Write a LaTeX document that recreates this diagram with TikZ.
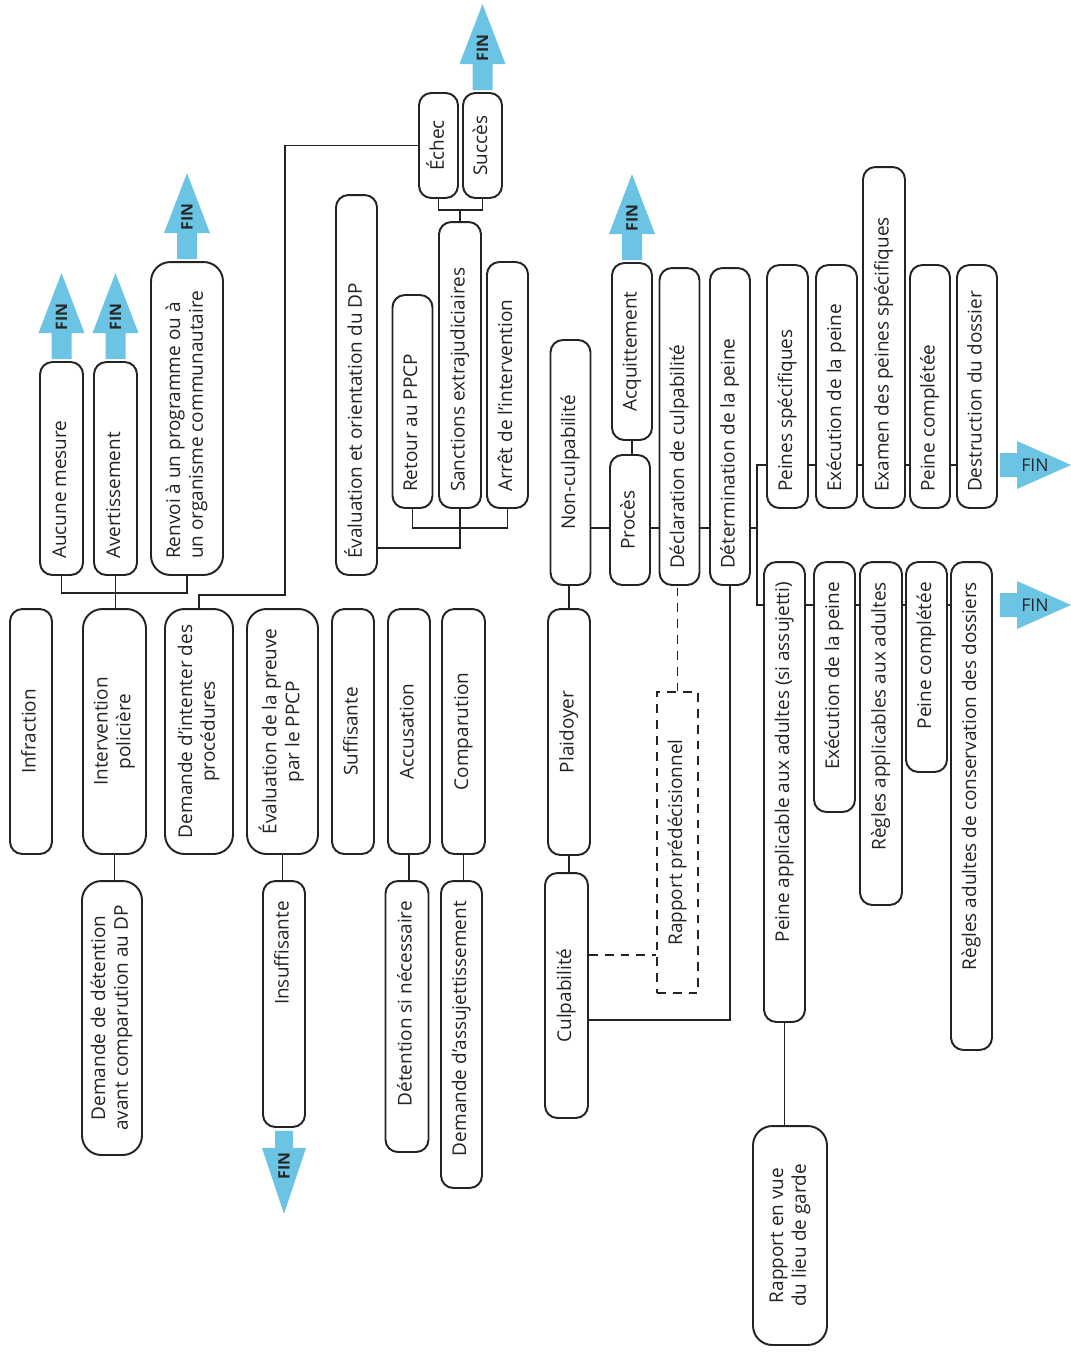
\documentclass[tikz,border=0pt]{standalone}
\usepackage{fontspec}
\setmainfont{Open Sans}
\usepackage{graphicx}
\definecolor{finblue}{RGB}{108, 196, 228}
\definecolor{inkgray}{RGB}{35, 35, 35}
% texte vertical : centre, cale en bas, cale en haut
\newcommand{\vt}[1]{\rotatebox{90}{\begin{tabular}{@{}c@{}}#1\end{tabular}}}
\newcommand{\vb}[2]{\rotatebox{90}{\makebox[#1][l]{\begin{tabular}{@{}l@{}}#2\end{tabular}}}}
\newcommand{\vu}[2]{\rotatebox{90}{\makebox[#1][r]{\begin{tabular}{@{}r@{}}#2\end{tabular}}}}

\begin{document}
\begin{tikzpicture}[
  x = 0.02cm, y = -0.02cm,
  box/.style   = {rectangle, rounded corners=7pt, draw=inkgray, line width=1.1pt, fill=white,
                  inner sep=0pt, font=\fontsize{10.8}{13}\selectfont, text=inkgray},
  wide/.style  = {box, rounded corners=11pt},
  dbox/.style  = {rectangle, draw=inkgray, line width=0.8pt, dash pattern=on 5pt off 4pt,
                  inner sep=0pt, font=\fontsize{10.8}{13}\selectfont, text=inkgray},
  link/.style  = {draw=inkgray, line width=0.7pt},
  dlink/.style = {link, dash pattern=on 5pt off 4pt},
  fin/.style   = {font=\fontsize{9}{10}\selectfont\bfseries, text=black!85, inner sep=0pt}
]
\useasboundingbox (0,0) rectangle (1071,1353);

% police et DP
\node[box,  minimum width=0.86cm, minimum height=4.26cm] (aucune) at (61.5,468.5) {\vb{3.62cm}{Aucune mesure}};
\node[box,  minimum width=0.86cm, minimum height=4.26cm] (avert)  at (115.5,468.5) {\vb{3.62cm}{Avertissement}};
\node[wide, minimum width=1.44cm, minimum height=6.26cm] (renvoi) at (187,418.5) {\vb{5.62cm}{Renvoi à un programme ou à\\un organisme communautaire}};
\node[box,  minimum width=0.84cm, minimum height=4.9cm]  (infr)   at (31,731.5)  {\vt{Infraction}};
\node[wide, minimum width=1.26cm, minimum height=4.9cm]  (pol)    at (114.5,731.5) {\vt{Intervention\\policière}};
\node[wide, minimum width=1.36cm, minimum height=4.9cm]  (demint) at (199,731.5) {\vt{Demande d’intenter des\\procédures}};
\node[wide, minimum width=1.42cm, minimum height=4.9cm]  (evprv)  at (282.5,731.5) {\vt{Évaluation de la preuve\\par le PPCP}};
\node[box,  minimum width=0.84cm, minimum height=4.9cm]  (suff)   at (353,731.5) {\vt{Suffisante}};
\node[box,  minimum width=0.84cm, minimum height=4.9cm]  (accus)  at (409,731.5) {\vt{Accusation}};
\node[box,  minimum width=0.86cm, minimum height=4.9cm]  (compar) at (463.5,731.5) {\vt{Comparution}};
\node[wide, minimum width=1.2cm,  minimum height=5.48cm] (demdet) at (112,1018) {\vt{Demande de détention\\avant comparution au DP}};
\node[box,  minimum width=0.84cm, minimum height=4.92cm] (insuff) at (284,1004) {\vu{4.12cm}{Insuffisante}};
\node[box,  minimum width=0.86cm, minimum height=5.42cm] (detnec) at (407,1016.5) {\vu{4.62cm}{Détention si nécessaire}};
\node[box,  minimum width=0.82cm, minimum height=6.14cm] (assuj)  at (461.5,1034.5) {\vu{5.34cm}{Demande d’assujettissement}};

% sanctions extrajudiciaires
\node[box, minimum width=0.82cm, minimum height=7.6cm]  (evor)   at (356.5,385) {\vb{6.96cm}{Évaluation et orientation du DP}};
\node[box, minimum width=0.8cm,  minimum height=4.26cm] (retour) at (412.5,401.5) {\vb{3.62cm}{Retour au PPCP}};
\node[box, minimum width=0.84cm, minimum height=5.72cm] (sanct)  at (460,365) {\vb{5.08cm}{Sanctions extrajudiciaires}};
\node[box, minimum width=0.82cm, minimum height=4.92cm] (arret)  at (507.5,385) {\vb{4.28cm}{Arrêt de l’intervention}};
\node[box, minimum width=0.78cm, minimum height=2.1cm]  (echec)  at (438.5,145.5) {\vt{Échec}};
\node[box, minimum width=0.78cm, minimum height=2.1cm]  (succes) at (482.5,145.5) {\vt{Succès}};

% tribunal
\node[box, minimum width=0.8cm,  minimum height=4.9cm]  (nonculp) at (570.5,462.5) {\vt{Non-culpabilité}};
\node[box, minimum width=0.84cm, minimum height=4.92cm] (plaid)   at (569,732) {\vt{Plaidoyer}};
\node[box, minimum width=0.86cm, minimum height=4.9cm]  (culp)    at (566.5,995.5) {\vt{Culpabilité}};
\node[box, minimum width=0.8cm,  minimum height=2.6cm]  (proces)  at (630,520) {\vt{Procès}};
\node[box, minimum width=0.8cm,  minimum height=3.54cm] (acquit)  at (632,351.5) {\vt{Acquittement}};
\node[box, minimum width=0.8cm,  minimum height=6.34cm] (declcul) at (679.5,426.5) {\vb{5.7cm}{Déclaration de culpabilité}};
\node[box, minimum width=0.8cm,  minimum height=6.34cm] (determ)  at (730,426.5) {\vb{5.7cm}{Détermination de la peine}};
\node[dbox, minimum width=0.82cm, minimum height=6.02cm] (rappred) at (677.5,842.5) {\vt{Rapport prédécisionnel}};

% peines
\node[box, minimum width=0.82cm, minimum height=4.86cm] (pspec)   at (787.5,386.5) {\vb{4.22cm}{Peines spécifiques}};
\node[box, minimum width=0.82cm, minimum height=4.86cm] (execa)   at (836.5,386.5) {\vb{4.22cm}{Exécution de la peine}};
\node[box, minimum width=0.84cm, minimum height=6.82cm] (examen)  at (884,337.5) {\vb{6.18cm}{Examen des peines spécifiques}};
\node[box, minimum width=0.8cm,  minimum height=4.86cm] (compa)   at (930,386.5) {\vb{4.22cm}{Peine complétée}};
\node[box, minimum width=0.8cm,  minimum height=4.86cm] (destr)   at (977,386.5) {\vb{4.22cm}{Destruction du dossier}};
\node[box, minimum width=0.82cm, minimum height=9.2cm]  (padult)  at (784.5,792) {\vu{8.4cm}{Peine applicable aux adultes (si assujetti)}};
\node[box, minimum width=0.82cm, minimum height=5cm]    (execb)   at (834.5,687) {\vu{4.2cm}{Exécution de la peine}};
\node[box, minimum width=0.84cm, minimum height=6.86cm] (regles)  at (881,733.5) {\vu{6.06cm}{Règles applicables aux adultes}};
\node[box, minimum width=0.82cm, minimum height=4.2cm]  (compb)   at (926.5,667) {\vu{3.4cm}{Peine complétée}};
\node[box, minimum width=0.82cm, minimum height=9.76cm] (rcons)   at (971.5,806) {\vu{8.96cm}{Règles adultes de conservation des dossiers}};
\node[wide, minimum width=1.48cm, minimum height=4.38cm] (garde)  at (790,1235.5) {\vt{Rapport en vue\\du lieu de garde}};

% jonctions
\coordinate (barA) at (0,593);
\coordinate (barB) at (285,595);
\coordinate (jsa)  at (460,528);
\coordinate (jsb)  at (460,548);
\coordinate (jes)  at (460,210);
\coordinate (jtr)  at (0,528);
\coordinate (sp1)  at (757,465);
\coordinate (sp2)  at (757,605);
\coordinate (jcu)  at (730,1020);
\coordinate (jdc)  at (0,955);
\coordinate (fx)   at (1000,0);

\draw[link] (aucune.south) |- (renvoi.south |- barA) -- (renvoi.south);
\draw[link] (avert.south) -- (avert.south |- pol.north);
\draw[link] (pol.south) -- (pol.south |- demdet.north);
\draw[link] (demint.north) |- (barB) |- (echec.west);
\draw[link] (evprv.south) -- (evprv.south |- insuff.north);
\draw[link] (accus.south) -- (accus.south |- detnec.north);
\draw[link] (compar.south) -- (compar.south |- assuj.north);

\draw[link] (retour.south) |- (jsa) -| (arret.south);
\draw[link] (sanct.south) -- (jsa) -- (jsb) -- (evor.east |- jsb);
\draw[link] (echec.south) |- (jes) -| (succes.south);
\draw[link] (sanct.north) -- (jes);

\draw[link] (plaid.north) -- (plaid.north |- nonculp.south);
\draw[link] (plaid.south) -- (plaid.south |- culp.north);
\draw[link] (acquit.south) -- (acquit.south |- proces.north);
\foreach \a/\b in {nonculp/proces, proces/declcul, declcul/determ}
  \draw[link] (\a.east |- jtr) -- (\b.west |- jtr);
\draw[link] (determ.east |- jtr) -- (sp1 |- jtr);
\draw[link] (pspec.west |- sp1) -- (sp1) -- (sp2) -- (padult.west |- sp2);
\foreach \a/\b in {pspec/execa, execa/examen, examen/compa, compa/destr}
  \draw[link] (\a.east |- sp1) -- (\b.west |- sp1);
\foreach \a/\b in {padult/execb, execb/regles, regles/compb, compb/rcons}
  \draw[link] (\a.east |- sp2) -- (\b.west |- sp2);
\draw[link] (padult.south) -- (padult.south |- garde.north);

\draw[link] (culp.east |- jcu) -| (determ.south);
\draw[dlink] (culp.east |- jdc) -- (rappred.west |- jdc);
\draw[dlink] (rappred.north) -- (rappred.north |- declcul.south);

% fleches FIN
\foreach \n in {aucune, avert, renvoi, succes, acquit}{
  \fill[finblue] (\n.north) ++(-10,-2) -- ++(0,-26) -- ++(-13,0) -- ++(23,-60)
    -- ++(23,60) -- ++(-13,0) -- ++(0,26) -- cycle;
  \path (\n.north) ++(0,-44) node[fin] (fin-\n) {\rotatebox{90}{FIN}};
}
\fill[finblue] (insuff.south) ++(-9,3) -- ++(0,17) -- ++(-13,0) -- ++(22,66)
  -- ++(22,-66) -- ++(-13,0) -- ++(0,-17) -- cycle;
\path (insuff.south) ++(0,38) node[fin] (fin-insuff) {\rotatebox{90}{FIN}};
\foreach \c in {sp1, sp2}{
  \fill[finblue] (fx |- \c) ++(0,-12) -- ++(17,0) -- ++(0,-12) -- ++(54,24)
    -- ++(-54,24) -- ++(0,-12) -- ++(-17,0) -- cycle;
  \path (fx |- \c) ++(35,0) node[fin, font=\fontsize{10}{11}\selectfont] (fin-\c) {FIN};
}

\end{tikzpicture}
\end{document}
